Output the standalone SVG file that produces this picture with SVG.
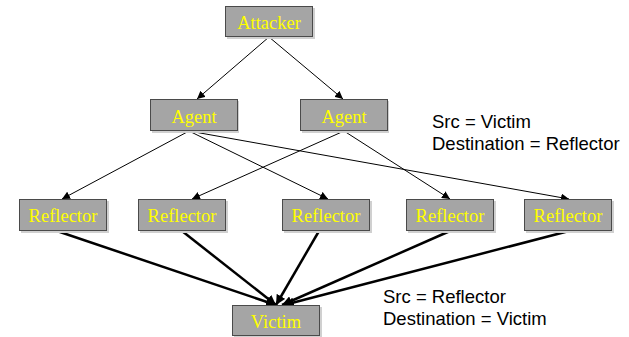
<svg xmlns="http://www.w3.org/2000/svg" width="629" height="337" viewBox="0 0 629 337">
  <style>
    .box { fill: #a5a5a5; stroke: #4a4a4a; stroke-width: 1; }
    .shadow { fill: #d0d0d0; }
    .lbl { font-family: "Liberation Serif", "Times New Roman", serif; font-size: 18.5px; fill: #ffff00; text-anchor: middle; }
    .note { font-family: "Liberation Sans", Arial, sans-serif; font-size: 18.5px; fill: #000000; }
    .thin { stroke: #000000; stroke-width: 1; fill: none; marker-end: url(#headS); }
    .thick { stroke: #000000; stroke-width: 2.5; fill: none; marker-end: url(#headL); }
  </style>
  <defs>
    <marker id="headS" viewBox="0 0 10 10" refX="10" refY="5" markerWidth="8" markerHeight="8" markerUnits="userSpaceOnUse" orient="auto">
      <path d="M0,0 L10,5 L0,10 z" fill="#000000"/>
    </marker>
    <marker id="headL" viewBox="0 0 10 10" refX="10" refY="5" markerWidth="10" markerHeight="10" markerUnits="userSpaceOnUse" orient="auto">
      <path d="M0,0 L10,5 L0,10 z" fill="#000000"/>
    </marker>
  </defs>

  <g id="connectors">
    <!-- attacker to agents -->
    <line class="thin" x1="269" y1="37" x2="197" y2="99"/>
    <line class="thin" x1="269" y1="37" x2="343" y2="99"/>
    <!-- agents to reflectors -->
    <line class="thin" x1="189" y1="131" x2="62" y2="199"/>
    <line class="thin" x1="189" y1="131" x2="328" y2="199"/>
    <line class="thin" x1="189" y1="131" x2="569" y2="199"/>
    <line class="thin" x1="344" y1="131" x2="192" y2="199"/>
    <line class="thin" x1="344" y1="131" x2="450" y2="199"/>
    <!-- reflectors to victim -->
    <line class="thick" x1="57" y1="231" x2="276" y2="305"/>
    <line class="thick" x1="182" y1="231" x2="276" y2="305"/>
    <line class="thick" x1="319" y1="231" x2="276" y2="305"/>
    <line class="thick" x1="450" y1="231" x2="282" y2="305"/>
    <line class="thick" x1="569" y1="231" x2="284" y2="305"/>
  </g>

  <g id="attacker">
    <rect class="shadow" x="227" y="8" width="88" height="31"/>
    <rect class="box" x="225.5" y="6.5" width="87" height="30"/>
    <text class="lbl" x="269" y="29">Attacker</text>
  </g>
  <g id="agent1">
    <rect class="shadow" x="152" y="101" width="87" height="32"/>
    <rect class="box" x="150.5" y="99.5" width="87" height="31"/>
    <text class="lbl" x="194" y="123">Agent</text>
  </g>
  <g id="agent2">
    <rect class="shadow" x="302" y="101" width="87" height="32"/>
    <rect class="box" x="300.5" y="99.5" width="87" height="31"/>
    <text class="lbl" x="344" y="123">Agent</text>
  </g>
  <g id="reflector1">
    <rect class="shadow" x="21" y="201" width="88" height="32"/>
    <rect class="box" x="19.5" y="199.5" width="87" height="31"/>
    <text class="lbl" x="63" y="222">Reflector</text>
  </g>
  <g id="reflector2">
    <rect class="shadow" x="140" y="201" width="88" height="32"/>
    <rect class="box" x="138.5" y="199.5" width="87" height="31"/>
    <text class="lbl" x="182" y="222">Reflector</text>
  </g>
  <g id="reflector3">
    <rect class="shadow" x="284" y="201" width="88" height="32"/>
    <rect class="box" x="282.5" y="199.5" width="87" height="31"/>
    <text class="lbl" x="326" y="222">Reflector</text>
  </g>
  <g id="reflector4">
    <rect class="shadow" x="408" y="201" width="88" height="32"/>
    <rect class="box" x="406.5" y="199.5" width="87" height="31"/>
    <text class="lbl" x="450" y="222">Reflector</text>
  </g>
  <g id="reflector5">
    <rect class="shadow" x="526" y="201" width="88" height="32"/>
    <rect class="box" x="524.5" y="199.5" width="87" height="31"/>
    <text class="lbl" x="568" y="222">Reflector</text>
  </g>
  <g id="victim">
    <rect class="shadow" x="234" y="307" width="88" height="31"/>
    <rect class="box" x="232.5" y="305.5" width="87" height="30"/>
    <text class="lbl" x="276" y="328">Victim</text>
  </g>

  <g id="notes">
    <text class="note" x="432" y="128">Src = Victim</text>
    <text class="note" x="432" y="150">Destination = Reflector</text>
    <text class="note" x="383" y="303">Src = Reflector</text>
    <text class="note" x="383" y="325">Destination = Victim</text>
  </g>
</svg>
